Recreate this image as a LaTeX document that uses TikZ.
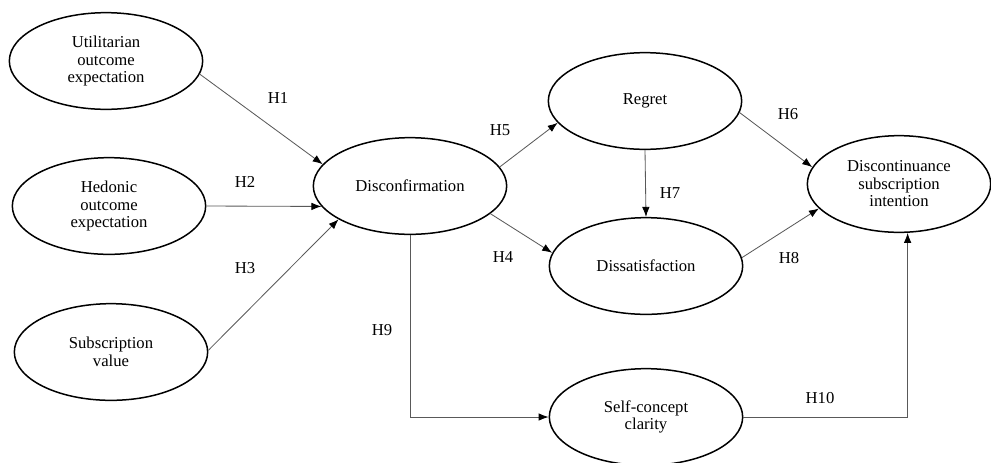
\documentclass[tikz,border=0pt]{standalone}
\usepackage{fontspec}
\setmainfont{Liberation Serif}
\usetikzlibrary{shapes.geometric, arrows.meta}

\begin{document}
\begin{tikzpicture}[x=0.6pt, y=-0.6pt,
        construct/.style={ellipse, draw=black, line width=0.9pt, minimum width=116pt,
            minimum height=58pt, inner sep=0pt, align=center,
            font=\fontsize{10}{10.5}\selectfont},
        hpath/.style={draw=black!65, line width=0.5pt,
            -{Latex[length=6pt, width=4.5pt, color=black]}},
        hyp/.style={font=\fontsize{10}{12}\selectfont}]
        \useasboundingbox (0,0) rectangle (991,462);

        \node[construct] (util) at (106,61) {Utilitarian\\outcome\\expectation};
        \node[construct] (hed) at (109,206) {Hedonic\\outcome\\expectation};
        \node[construct] (subval) at (111,352) {Subscription\\value};
        \node[construct] (disconf) at (410,186) {Disconfirmation};
        \node[construct] (regret) at (645,101) {Regret};
        \node[construct] (dissat) at (646,266) {Dissatisfaction};
        \node[construct, minimum width=110pt] (discont) at (899,184) {Discontinuance\\subscription\\intention};
        \node[construct] (selfcc) at (646,417) {Self-concept\\clarity};

        \draw[hpath] (util.-8) -- (disconf.166);
        \draw[hpath] (hed.east) -- (disconf.193);
        \draw[hpath] (subval.1) -- (disconf.205);
        \draw[hpath] (disconf.12) -- (regret.194);
        \draw[hpath] (disconf.-19) -- (dissat.172);
        \draw[hpath] (regret.south) -- (dissat.north);
        \draw[hpath] (regret.-7) -- (discont.169);
        \draw[hpath] (dissat.5) -- (discont.197);
        \draw[hpath] (disconf.south) |- (selfcc.west);
        \draw[hpath] (selfcc.east) -| (discont.-80);

        \node[hyp] (h1) at (278,98) {H1};
        \node[hyp] (h2) at (245,182) {H2};
        \node[hyp] (h3) at (245,268) {H3};
        \node[hyp] (h4) at (503,257) {H4};
        \node[hyp] (h5) at (500,130) {H5};
        \node[hyp] (h6) at (788,114) {H6};
        \node[hyp] (h7) at (670,193) {H7};
        \node[hyp] (h8) at (789,258) {H8};
        \node[hyp] (h9) at (382,330) {H9};
        \node[hyp] (h10) at (820,398) {H10};
    \end{tikzpicture}
\end{document}
